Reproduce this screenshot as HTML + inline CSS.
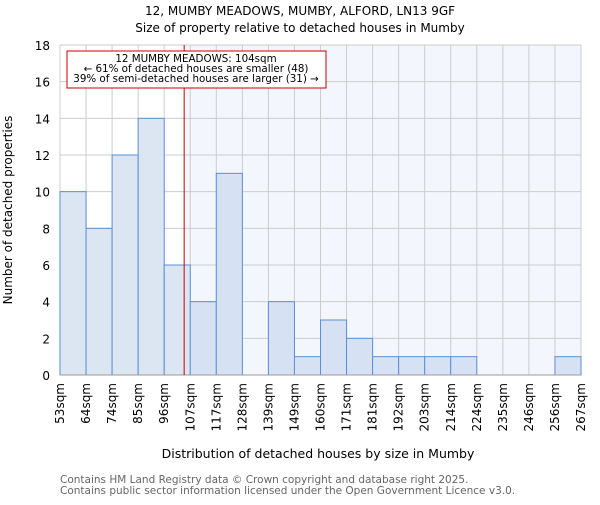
<!DOCTYPE html>
<html><head><meta charset="utf-8"><style>
body{margin:0;background:#fff;font-family:"Liberation Sans","DejaVu Sans",sans-serif}
svg text{font-family:"DejaVu Sans","Liberation Sans",sans-serif}
</style></head><body>
<svg id="c" width="600" height="500" xmlns="http://www.w3.org/2000/svg">
<text x="300" y="15" text-anchor="middle" font-size="12">12, MUMBY MEADOWS, MUMBY, ALFORD, LN13 9GF</text>
<text x="300" y="32" text-anchor="middle" font-size="12">Size of property relative to detached houses in Mumby</text>
<g id="plot"></g>
<text x="318" y="458" text-anchor="middle" font-size="12.5">Distribution of detached houses by size in Mumby</text>
<text transform="translate(12,210) rotate(-90)" text-anchor="middle" font-size="12">Number of detached properties</text>
<text x="60" y="483" font-size="10.5" fill="#666">Contains HM Land Registry data © Crown copyright and database right 2025.</text>
<text x="60" y="494" font-size="10.5" fill="#666">Contains public sector information licensed under the Open Government Licence v3.0.</text>
</svg>
<script>
const binEdges=[53,64,74,85,96,107,117,128,139,149,160,171,181,192,203,214,224,235,246,256,267];
const edgeLabels=["53sqm","64sqm","74sqm","85sqm","96sqm","107sqm","117sqm","128sqm","139sqm","149sqm","160sqm","171sqm","181sqm","192sqm","203sqm","214sqm","224sqm","235sqm","246sqm","256sqm","267sqm"];
const counts=[10,8,12,14,6,4,11,0,4,1,3,2,1,1,1,1,0,0,0,1];
const yTicks=[0,2,4,6,8,10,12,14,16,18];
const propertySize=104;
const L=60,R=581,T=45,B=375,xMin=53,xMax=267,yMax=18;
const NS="http://www.w3.org/2000/svg";
const g=document.getElementById('plot');
const xs=v=>L+(v-xMin)/(xMax-xMin)*(R-L);
const ys=v=>B-v/yMax*(B-T);
const xi=i=>L+i*(R-L)/counts.length;
function mk(t,a){const e=document.createElementNS(NS,t);for(const k in a)e.setAttribute(k,a[k]);g.appendChild(e);return e;}
const px=xs(propertySize);
let e=mk('rect',{x:px,y:T,width:R-px,height:B-T,fill:'#f3f6fd'});


yTicks.forEach(v=>{
  let l=mk('line',{x1:L,x2:R,y1:ys(v),y2:ys(v),stroke:'#cccccc'});
  
  
  let t=mk('text',{x:L-10,y:ys(v)+5,'text-anchor':'end','font-size':'12'});t.textContent=v;
  
  
});
edgeLabels.forEach((s,i)=>{
  const x=xi(i);
  let l=mk('line',{x1:x,x2:x,y1:T,y2:B,stroke:'#cccccc'});
  
  
  let t=mk('text',{transform:`translate(${x+4},${B+8}) rotate(-90)`,'text-anchor':'end','font-size':'12'});t.textContent=s;
  
  
});
counts.forEach((c,i)=>{
  if(!c)return;
  const x0=xi(i),x1=xi(i+1);
  let r=mk('rect',{x:x0,y:ys(c),width:x1-x0,height:B-ys(c),fill:(x0>=px?'#d6e2f3':'#dce6f2'),stroke:'#5a8fd8','stroke-width':1});
  
  
});
let ax=mk('line',{x1:L,x2:R,y1:B,y2:B,stroke:'#999'});


let rl=mk('line',{x1:px,x2:px,y1:T,y2:B,stroke:'#cc0000','stroke-width':1});


let bx=mk('rect',{x:67,y:51,width:259,height:37,fill:'#fff',stroke:'#cc0000'});


["12 MUMBY MEADOWS: 104sqm","← 61% of detached houses are smaller (48)","39% of semi-detached houses are larger (31) →"].forEach((s,i)=>{
  let t=mk('text',{x:196,y:62+i*10,'text-anchor':'middle','font-size':'10.3'});t.textContent=s;
  
  
});
</script>
</body></html>
